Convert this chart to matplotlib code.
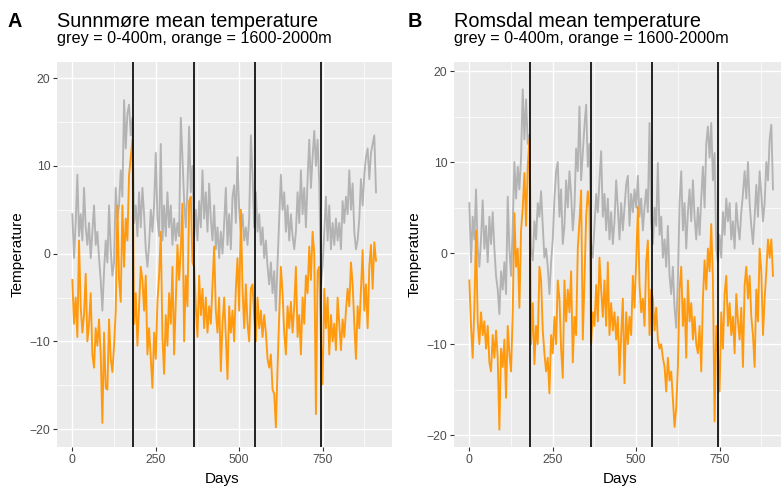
import numpy as np
import matplotlib.pyplot as plt

plt.rcParams["font.family"] = ["Liberation Sans", "DejaVu Sans"]

# one value every 5 days
days = np.arange(0, 911, 5)
season_lines = [181, 364, 547, 745]

sunn_low = [
    4.5, -0.5, 3.5, 9.0, 2.0, 4.5, 1.5, 7.5, 3.0, 1.0,
    3.5, -0.5, 2.5, 5.5, 1.0, 2.5, -0.5, -3.0, -6.5, -2.0,
    1.5, -1.0, 5.5, 0.5, -2.5, -1.0, 7.5, 4.0, 5.5, 9.5,
    6.5, 17.5, 12.0, 16.0, 17.0, 13.5, 15.5, 3.5, 5.5, 2.0,
    7.0, 3.0, 7.5, 4.5, 0.5, -1.5, 1.0, 5.0, 2.5, 5.5,
    11.5, 4.0, 2.0, 12.5, 1.5, 5.5, 2.0, 7.0, 3.0, 5.5,
    1.0, 4.0, 1.5, 3.5, 2.0, 15.5, 11.0, 6.0, 3.0, 7.5,
    14.5, 7.0, 10.0, 2.0, 5.0, 1.5, 6.0, 3.0, 9.5, 4.0,
    7.0, 2.5, 8.0, 4.0, 1.5, 5.5, 0.5, 3.0, -0.5, 2.5,
    0.0, 3.5, 7.5, 1.0, 4.5, 0.5, 6.5, 7.8, 3.5, 11.0,
    5.0, 2.5, 4.5, 1.5, 3.0, 1.0, 4.0, 13.5, 9.0, 3.0,
    7.0, 2.5, 4.5, 1.0, 3.0, -0.5, 1.5, -1.5, -3.5, -1.0,
    -4.5, -2.0, -6.5, -1.0, 4.0, 9.0, 5.0, 7.0, 2.5, 5.5,
    1.5, 4.5, 2.0, 0.5, 2.5, 7.0, 3.5, 9.5, 4.5, 7.5,
    3.0, 8.5, 13.0, 7.5, 11.0, 14.0, 10.0, 13.0, 8.0, -3.5,
    -1.5, 2.5, 6.5, 1.5, 5.5, 0.5, 3.5, 1.0, 4.0, 1.5,
    3.5, 0.5, 6.0, 3.5, 6.5, 4.5, 9.5, 5.0, 8.0, 2.5,
    0.5, 1.5, 4.0, 8.5, 5.5, 9.0, 11.0, 12.0, 8.5, 11.5,
    12.5, 13.5, 7.0,
]

sunn_high = [
    -3.0, -8.0, -5.0, -9.5, 1.5, -6.0, -9.0, -7.0, -2.3, -10.0,
    -8.0, -4.5, -11.5, -13.0, -8.5, -10.5, -7.5, -11.5, -19.3, -9.0,
    -15.3, -15.5, -7.5, -12.0, -13.5, -10.5, -6.5, 5.5, -3.0, -5.5,
    5.5, -1.5, 4.0, 1.5, 9.0, 11.0, 13.0, -8.0, -4.5, -10.5,
    -6.0, -1.5, -3.0, -6.5, -2.5, -11.5, -8.5, -12.0, -15.3, -9.0,
    -12.0, -5.5, -2.5, 2.5, -9.5, -13.7, -7.0, -10.5, -4.5, -8.0,
    -1.5, -11.5, -5.5, 1.0, -3.0, 0.5, 5.7, -10.0, -2.5, -6.0,
    6.0, 6.5, -1.0, -1.5, -6.0, -9.5, -2.5, -7.0, -4.0, -8.5,
    -5.0, -9.0, -6.0, -8.0, -3.5, 0.8, -6.5, -9.0, -5.0, -13.4,
    -8.0, -5.0, -9.5, -14.3, -6.0, -9.0, -6.5, -10.0, -4.0, -0.5,
    -6.5, 5.0, -4.0, -8.5, -3.5, -8.0, -10.0, -4.0, -3.5, -7.0,
    -10.0, -5.0, -8.5, -6.5, -9.5, -7.0, -9.0, -12.0, -13.0, -11.5,
    -15.5, -16.0, -19.8, -13.0, -7.0, -1.5, -4.5, -9.0, -11.5, -6.0,
    -8.5, -5.5, -9.0, -6.0, -1.5, -9.5, -7.0, -11.5, -5.0, -8.0,
    -2.5, -4.5, 0.8, -3.0, 2.5, 0.0, -18.3, -2.0, -1.5, -10.0,
    -14.9, -4.0, -8.5, -5.0, -11.5, -7.0, -10.0, -8.0, -11.0, -5.0,
    -8.0, -11.0, -7.5, -9.5, -6.5, -4.0, -6.0, -1.0, -3.5, -8.0,
    -12.0, -6.0, -8.5, -4.0, 0.4, -6.5, -3.5, -8.5, -1.5, 1.0,
    -4.0, 1.3, -0.8,
]

roms_low = [
    5.5, -1.0, 4.0, 1.5, 7.0, 0.5, -1.5, 1.5, 5.8, 0.5,
    3.0, -1.0, 4.0, 1.0, 4.5, 0.5, -2.5, -4.0, -6.7, -2.0,
    -4.0, -1.0, -4.5, 6.2, 0.5, -2.5, 3.0, 10.0, 6.0, 9.5,
    7.0, 10.5, 18.0, 12.5, 16.9, 12.0, 13.0, 0.5, -0.8, 3.5,
    1.5, 5.5, 4.0, 6.8, 3.0, -0.5, 0.5, -1.5, -4.5, -1.0,
    1.5, 6.0, 9.0, 10.0, 4.0, 7.0, 1.0, 3.0, 8.0, 5.0,
    9.0, 6.5, 2.5, 5.0, 11.5, 9.0, 16.1, 8.0, 11.0, 14.0,
    16.3, 9.5, 12.0, 1.0, -0.5, 3.0, 6.5, 4.5, 8.0, 11.2,
    4.0, 6.5, 2.5, 6.0, 1.5, 4.5, 1.0, 3.5, 8.0, 5.0,
    1.5, 5.5, 2.5, 5.0, 7.5, 8.5, 3.0, 6.5, 4.5, 7.0,
    5.0, 8.5, 4.0, 6.0, 2.5, 5.0, 7.0, 4.5, 14.3, 3.5,
    1.0, 5.0, 3.0, 9.9, 2.0, 4.0, -0.5, 1.5, -1.5, 3.0,
    -2.5, -4.5, -1.5, -6.0, -8.2, -3.0, 5.5, 9.0, 2.5, 5.5,
    0.5, 4.5, 7.0, 3.5, 8.0, 4.0, 1.5, 5.0, 2.0, 6.0,
    9.5, 5.0, 12.0, 13.9, 10.5, 14.3, 8.0, 11.0, 0.5, -1.0,
    2.0, -0.5, 4.5, 2.0, 6.0, 3.5, 5.5, 1.5, 3.5, 0.5,
    5.5, 3.0, 1.5, 4.5, 6.5, 9.0, 6.0, 10.0, 5.5, 3.0,
    1.0, 4.0, 7.5, 4.0, 9.0, 6.5, 3.5, 5.5, 10.0, 8.0,
    12.5, 14.1, 7.0,
]

roms_high = [
    -3.0, -8.0, -11.5, -6.0, 2.5, -7.5, -10.0, -6.5, -9.0, -7.5,
    -10.5, -8.0, -12.0, -13.0, -9.0, -11.5, -8.5, -11.5, -19.4, -10.5,
    -12.5, -9.5, -15.9, -8.0, -11.0, -13.0, -6.5, 4.4, -1.5, 0.5,
    -6.0, 2.5, 5.0, 8.8, 3.0, 9.5, 12.5, -10.0, -5.5, -12.2,
    -8.0, -10.0, -1.5, -3.0, -8.5, -11.0, -13.0, -11.5, -15.4, -9.0,
    -11.0, -7.0, -10.0, -3.0, -5.0, -10.5, -13.7, -3.0, -7.5, -4.0,
    -6.5, -2.0, -12.0, -7.0, -9.0, 0.5, 3.5, 6.9, -9.5, -3.0,
    4.0, 6.8, 5.0, -10.0, -6.5, -8.0, -3.5, -7.5, -0.5, -4.0,
    -7.0, -3.0, -8.0, -1.0, -9.0, -5.5, -8.5, -6.5, -9.5, -7.0,
    -13.4, -9.0, -5.0, -14.3, -6.5, -10.0, -7.0, -9.0, -2.5, -6.0,
    -1.0, 5.1, -3.5, -6.5, -5.0, -8.0, -1.0, 1.4, -9.0, -4.0,
    -5.0, -8.5, -6.0, -9.5, -10.5, -10.0, -11.5, -12.5, -15.2, -11.5,
    -14.0, -13.0, -16.0, -19.1, -17.0, -12.5, -4.0, -1.5, -8.0, -5.0,
    -11.5, -3.0, -7.5, -5.5, -9.5, -7.0, -10.0, -11.0, -8.0, -13.0,
    -5.0, -0.8, -4.0, 0.5, -2.0, 3.2, -3.0, -18.5, -8.0, -11.0,
    -15.2, -6.5, -10.5, -4.5, -2.5, -8.0, -5.5, -9.0, -7.0, -11.0,
    -4.5, -7.5, -9.5, -6.0, -12.5, -3.5, -1.5, -5.0, -2.5, -7.0,
    -9.0, -12.5, -4.0, -7.5, 0.5, -2.0, -9.0, -5.0, -2.0, 1.5,
    -0.5, 1.5, -2.5,
]

for s in (sunn_low, sunn_high, roms_low, roms_high):
    assert len(s) == len(days)

W, H = 781, 486
fig = plt.figure(figsize=(W / 100, H / 100), dpi=100)


def panel(left_px, low, high, ylim):
    ax = fig.add_axes([left_px / W, (H - 447) / H, 335 / W, 385 / H])
    ax.set_facecolor("#EBEBEB")
    for sp in ax.spines.values():
        sp.set_visible(False)
    ax.plot(days, low, color="#B3B3B3", lw=1.35, zorder=3)
    ax.plot(days, high, color="#FF990D", lw=1.35, zorder=4)
    for d in season_lines:
        ax.axvline(d, color="black", lw=1.2, zorder=5)
    ax.set_xlim(-46, 958)
    ax.set_ylim(*ylim)
    ax.set_xticks([0, 250, 500, 750])
    ax.set_xticks([125, 375, 625, 875], minor=True)
    ax.set_yticks([-20, -10, 0, 10, 20])
    ax.set_yticks([-15, -5, 5, 15], minor=True)
    ax.grid(which="major", color="white", lw=1.0, zorder=0)
    ax.grid(which="minor", color="white", lw=0.5, zorder=0)
    ax.set_axisbelow(True)
    ax.tick_params(which="major", length=2.75, width=0.8, color="#333333",
                   labelcolor="#4D4D4D", labelsize=8.8, pad=2)
    ax.tick_params(which="minor", length=0)
    return ax


ax1 = panel(57, sunn_low, sunn_high, (-22.05, 21.86))
ax2 = panel(454, roms_low, roms_high, (-21.3, 21.0))

fig.text(8 / W, 1 - 27 / H, "A", fontsize=14.3, fontweight="bold", va="baseline")
fig.text(57 / W, 1 - 27 / H, "Sunnmøre mean temperature", fontsize=14.3, va="baseline")
fig.text(57 / W, 1 - 43 / H, "grey = 0-400m, orange = 1600-2000m", fontsize=11.7, va="baseline")
fig.text(408 / W, 1 - 27 / H, "B", fontsize=14.3, fontweight="bold", va="baseline")
fig.text(454 / W, 1 - 27 / H, "Romsdal mean temperature", fontsize=14.3, va="baseline")
fig.text(454 / W, 1 - 43 / H, "grey = 0-400m, orange = 1600-2000m", fontsize=11.7, va="baseline")

fig.text(18 / W, 1 - 254 / H, "Temperature", fontsize=11, rotation=90, ha="center", va="center")
fig.text(415 / W, 1 - 254 / H, "Temperature", fontsize=11, rotation=90, ha="center", va="center")
fig.text(222 / W, 1 - 479 / H, "Days", fontsize=11, ha="center", va="center")
fig.text(620 / W, 1 - 479 / H, "Days", fontsize=11, ha="center", va="center")

fig.savefig("out.png", dpi=100)
